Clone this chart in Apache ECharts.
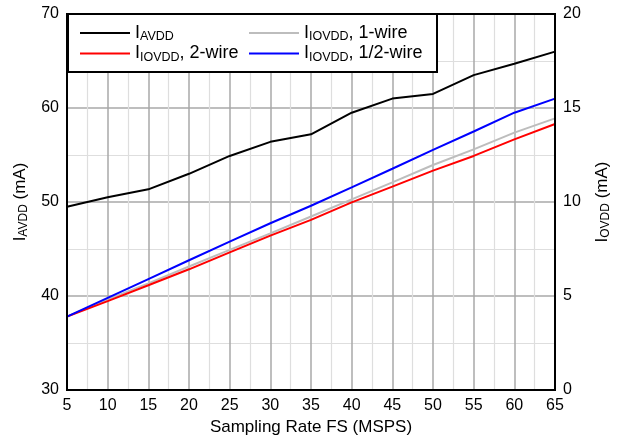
<!DOCTYPE html>
<html><head><meta charset="utf-8">
<script src="https://cdn.jsdelivr.net/npm/echarts@6/dist/echarts.min.js"></script>
<style>html,body{margin:0;padding:0;background:#fff}#c{width:624px;height:444px}</style>
</head><body><div id="c"></div>
<script>
const rates = [5,10,15,20,25,30,35,40,45,50,55,60,65];
const iAVDD = [49.5,50.5,51.35,53.0,54.9,56.4,57.2,59.5,61.0,61.5,63.5,64.7,66.0];
const iIOVDD1wire = [3.9,4.82,5.67,6.57,7.45,8.33,9.23,10.14,11.04,11.97,12.8,13.69,14.45];
const iIOVDD2wire = [3.9,4.73,5.57,6.42,7.32,8.21,9.05,9.98,10.82,11.67,12.45,13.33,14.15];
const iIOVDDhalf = [3.9,4.9,5.9,6.9,7.89,8.87,9.8,10.78,11.77,12.77,13.75,14.75,15.5];
const names = ['I{s|AVDD}','I{s|IOVDD}, 1-wire','I{s|IOVDD}, 2-wire','I{s|IOVDD}, 1/2-wire'];
const F = 'Liberation Sans, Arial, Helvetica, sans-serif';
const pair = (xs, ys) => xs.map((x,i)=>[x, ys[i]]);
const richL = {s:{fontSize:12.5, fontFamily:F, color:'#000', padding:[8,0,0,0]}};
const richN = {s:{fontSize:12, fontFamily:F, color:'#000', padding:[7,0,0,0]}};
const chart = echarts.init(document.getElementById('c'), null, {renderer:'canvas'});
const mk = (name, data, color, yi) => ({name, type:'line', data, yAxisIndex:yi, showSymbol:false, symbol:'none', lineStyle:{color, width:2}, itemStyle:{color}, animation:false, z:2});
const legendCommon = {orient:'vertical', itemWidth:50, itemHeight:2, icon:'rect', itemGap:1, z:20, itemStyle:{borderWidth:0},
  textStyle:{fontSize:18, fontFamily:F, color:'#000', rich:richL}, padding:0};
chart.setOption({
  animation:false,
  grid:{left:67, right:69, top:14, bottom:54, show:true, borderColor:'#000', borderWidth:2, z:4},
  legend:[
    Object.assign({left:80, top:24, data:[names[0], names[2]]}, legendCommon),
    Object.assign({left:249, top:24, data:[names[1], names[3]]}, legendCommon)
  ],
  graphic:[{type:'rect', shape:{x:68, y:14, width:369, height:58}, style:{fill:'#fff', stroke:'#000', lineWidth:2}, z:3}],
  xAxis:{type:'value', min:5, max:65, interval:5,
    name:'Sampling Rate FS (MSPS)', nameLocation:'middle', nameGap:29,
    nameTextStyle:{fontSize:17, fontFamily:F, color:'#000'},
    axisLine:{show:true, lineStyle:{color:'#000', width:2}}, axisTick:{show:false},
    axisLabel:{fontSize:16, fontFamily:F, color:'#000', margin:8},
    splitLine:{show:true, lineStyle:{color:'#a8a8a8', width:1.5}},
    minorTick:{show:false, splitNumber:2},
    minorSplitLine:{show:true, lineStyle:{color:'#dedede', width:1.2}}},
  yAxis:[
    {type:'value', min:30, max:70, interval:10, position:'left',
     name:'I{s|AVDD} (mA)', nameLocation:'middle', nameGap:37, nameRotate:90,
     nameTextStyle:{fontSize:17, fontFamily:F, color:'#000', rich:richN},
     axisLine:{show:true, lineStyle:{color:'#000', width:2}}, axisTick:{show:false},
     axisLabel:{fontSize:16, fontFamily:F, color:'#000', margin:8},
     splitLine:{show:true, lineStyle:{color:'#a8a8a8', width:1.5}},
     minorTick:{show:false, splitNumber:2},
     minorSplitLine:{show:true, lineStyle:{color:'#dedede', width:1.2}}},
    {type:'value', min:0, max:20, interval:5, position:'right',
     name:'I{s|OVDD} (mA)', nameLocation:'middle', nameGap:38, nameRotate:90,
     nameTextStyle:{fontSize:17, fontFamily:F, color:'#000', rich:richN},
     axisLine:{show:true, lineStyle:{color:'#000', width:2}}, axisTick:{show:false},
     axisLabel:{fontSize:16, fontFamily:F, color:'#000', margin:8},
     splitLine:{show:false}}
  ],
  series:[
    mk(names[0], pair(rates, iAVDD), '#000000', 0),
    mk(names[1], pair(rates, iIOVDD1wire), '#bdbdbd', 1),
    mk(names[2], pair(rates, iIOVDD2wire), '#ff0000', 1),
    mk(names[3], pair(rates, iIOVDDhalf), '#0000ff', 1)
  ]
});
</script></body></html>
